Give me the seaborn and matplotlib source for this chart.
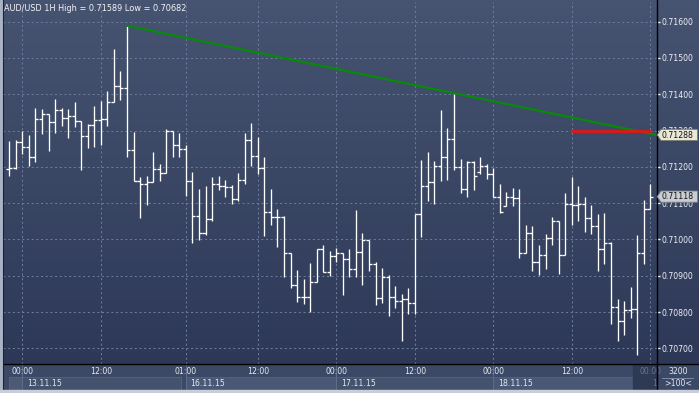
import matplotlib
matplotlib.use("Agg")
import matplotlib.pyplot as plt
from matplotlib.patches import Rectangle, Polygon
import numpy as np
import pandas as pd
import seaborn as sns

# ---------------- data ----------------
title_text = "AUD/USD 1H High = 0.71589 Low = 0.70682"

opens = [0.71194, 0.71197, 0.71268, 0.71254, 0.71228, 0.71332, 0.71346, 0.71324, 0.71357, 0.71335,
         0.71339, 0.71327, 0.71286, 0.71316, 0.71329, 0.71332, 0.71379, 0.71423, 0.71418, 0.71247,
         0.71161, 0.71153, 0.71158, 0.71194, 0.71183, 0.71299, 0.71261, 0.71250, 0.71162, 0.71065,
         0.71018, 0.71055, 0.71153, 0.71147, 0.71145, 0.71112, 0.71164, 0.71274, 0.71230, 0.71197,
         0.71076, 0.71062, 0.71063, 0.70963, 0.70875, 0.70841, 0.70841, 0.70883, 0.70974, 0.70911,
         0.70953, 0.70963, 0.70947, 0.70919, 0.70966, 0.70999, 0.70933, 0.70840, 0.70897, 0.70841,
         0.70830, 0.70837, 0.70826, 0.71071, 0.71148, 0.71159, 0.71201, 0.71228, 0.71277, 0.71200,
         0.71139, 0.71213, 0.71185, 0.71203, 0.71180, 0.71117, 0.71092, 0.71117, 0.71115, 0.70963,
         0.71019, 0.70939, 0.70958, 0.71005, 0.71050, 0.70958, 0.71098, 0.71094, 0.71098, 0.71060,
         0.71038, 0.70973, 0.70991, 0.70815, 0.70774, 0.70806, 0.70809, 0.70963, 0.71084]

highs = [0.71270, 0.71274, 0.71299, 0.71289, 0.71363, 0.71360, 0.71346, 0.71387, 0.71363, 0.71359,
         0.71379, 0.71327, 0.71317, 0.71369, 0.71382, 0.71409, 0.71526, 0.71465, 0.71589, 0.71297,
         0.71171, 0.71176, 0.71240, 0.71209, 0.71304, 0.71299, 0.71292, 0.71261, 0.71187, 0.71140,
         0.71146, 0.71171, 0.71176, 0.71165, 0.71149, 0.71183, 0.71293, 0.71322, 0.71281, 0.71228,
         0.71138, 0.71083, 0.71064, 0.70963, 0.70915, 0.70892, 0.70934, 0.70974, 0.70985, 0.70969,
         0.70977, 0.70963, 0.70973, 0.71080, 0.71019, 0.70999, 0.70937, 0.70920, 0.70901, 0.70871,
         0.70850, 0.70867, 0.71071, 0.71220, 0.71242, 0.71216, 0.71358, 0.71306, 0.71400, 0.71222,
         0.71216, 0.71216, 0.71228, 0.71207, 0.71198, 0.71154, 0.71130, 0.71142, 0.71138, 0.71039,
         0.71038, 0.70986, 0.71016, 0.71062, 0.71052, 0.71128, 0.71173, 0.71146, 0.71118, 0.71096,
         0.71069, 0.71074, 0.70993, 0.70835, 0.70830, 0.70868, 0.71011, 0.71109, 0.71153]

lows = [0.71174, 0.71194, 0.71236, 0.71202, 0.71213, 0.71290, 0.71243, 0.71294, 0.71312, 0.71279,
        0.71309, 0.71191, 0.71251, 0.71254, 0.71261, 0.71312, 0.71379, 0.71383, 0.71227, 0.71161,
        0.71060, 0.71094, 0.71158, 0.71161, 0.71183, 0.71227, 0.71227, 0.71119, 0.70990, 0.70998,
        0.71011, 0.71052, 0.71135, 0.71117, 0.71097, 0.71107, 0.71152, 0.71201, 0.71179, 0.71009,
        0.71039, 0.70979, 0.70896, 0.70866, 0.70828, 0.70823, 0.70800, 0.70883, 0.70909, 0.70899,
        0.70938, 0.70848, 0.70896, 0.70896, 0.70874, 0.70912, 0.70819, 0.70826, 0.70789, 0.70811,
        0.70720, 0.70795, 0.70795, 0.71006, 0.71106, 0.71097, 0.71161, 0.71163, 0.71190, 0.71128,
        0.71117, 0.71136, 0.71181, 0.71167, 0.71117, 0.71073, 0.71091, 0.71092, 0.70950, 0.70963,
        0.70913, 0.70903, 0.70919, 0.70985, 0.70905, 0.70958, 0.71040, 0.71050, 0.71020, 0.71016,
        0.70913, 0.70931, 0.70768, 0.70721, 0.70738, 0.70784, 0.70682, 0.70933, 0.71084]

closes = [0.71197, 0.71268, 0.71254, 0.71228, 0.71332, 0.71346, 0.71324, 0.71357, 0.71335, 0.71339,
          0.71327, 0.71286, 0.71316, 0.71329, 0.71332, 0.71379, 0.71423, 0.71418, 0.71247, 0.71162,
          0.71153, 0.71158, 0.71194, 0.71183, 0.71299, 0.71261, 0.71250, 0.71162, 0.71065, 0.71018,
          0.71055, 0.71153, 0.71147, 0.71145, 0.71112, 0.71164, 0.71274, 0.71230, 0.71197, 0.71076,
          0.71062, 0.71063, 0.70963, 0.70875, 0.70841, 0.70841, 0.70883, 0.70974, 0.70911, 0.70953,
          0.70963, 0.70947, 0.70919, 0.70966, 0.70999, 0.70933, 0.70840, 0.70897, 0.70841, 0.70830,
          0.70837, 0.70826, 0.71071, 0.71148, 0.71159, 0.71201, 0.71228, 0.71277, 0.71200, 0.71139,
          0.71213, 0.71174, 0.71203, 0.71180, 0.71117, 0.71075, 0.71117, 0.71115, 0.70963, 0.71019,
          0.70939, 0.70958, 0.71005, 0.71050, 0.70958, 0.71098, 0.71094, 0.71098, 0.71060, 0.71038,
          0.70973, 0.70991, 0.70815, 0.70774, 0.70806, 0.70809, 0.70963, 0.71084, 0.71118]

price_ticks = [0.707, 0.708, 0.709, 0.710, 0.711, 0.712, 0.713, 0.714, 0.715, 0.716]

time_tick_idx = [2, 14, 27, 38, 50, 62, 74, 86, 98]
time_tick_labels = ["00:00", "12:00", "01:00", "12:00", "00:00", "12:00", "00:00", "12:00", "00:00"]

day_start_idx = [2, 27, 50, 74, 95.4]
day_labels = ["13.11.15", "16.11.15", "17.11.15", "18.11.15", "1"]

trend_idx = [18, 68]
trend_price = [0.71589, 0.71403]
level_idx = [86, 98]
level_price = [0.71300, 0.71300]

tag_values = [0.71288, 0.71118]
corner_texts = ["3200", ">100<"]

# ---------------- style ----------------
sns.set_style("dark")
plt.rcParams["font.family"] = ["DejaVu Sans"]
FS = 5.6
W, H = 699, 393
fig = plt.figure(figsize=(W / 100, H / 100), dpi=100)

# background gradient (full figure)
bg = fig.add_axes([0, 0, 1, 1], zorder=0)
grad = np.linspace(0, 1, 256).reshape(-1, 1)
top_c = np.array([0x46, 0x54, 0x71]) / 255
bot_c = np.array([0x2b, 0x36, 0x55]) / 255
img = top_c[None, None, :] * (1 - grad[:, :, None]) + bot_c[None, None, :] * grad[:, :, None]
bg.imshow(img, aspect="auto", extent=[0, W, H, 0])
bg.set_xlim(0, W)
bg.set_ylim(H, 0)
bg.axis("off")

# main axes geometry in pixels
L, R, T, B = 3.0, 656.5, 2.0, 363.5
ax = fig.add_axes([L / W, (H - B) / H, (R - L) / W, (B - T) / H], zorder=1)
ax.set_facecolor("none")
ppx = 36.29  # pixels per 0.001
x0_px, bar_px = 9.3, 6.54
ax.set_xlim((L - x0_px) / bar_px, (R - x0_px) / bar_px)
ax.set_ylim(0.716 - (B - 21.7) / ppx / 1000, 0.716 + (21.7 - T) / ppx / 1000)
for s in ax.spines.values():
    s.set_visible(False)

# grid
grid_kw = dict(color="#6b7a98", lw=0.75, linestyle=(0, (2, 2.5)), zorder=1)
for p in price_ticks:
    ax.axhline(p, **grid_kw)
for i in time_tick_idx:
    ax.axvline(i, **grid_kw)

# OHLC bars
df = pd.DataFrame({"o": opens, "h": highs, "l": lows, "c": closes})
df["i"] = np.arange(len(df))
bar_c = "#ffffff"
lw = 0.95
tw = 0.46
ax.vlines(df["i"], df["l"], df["h"], color=bar_c, lw=lw, zorder=3)
ax.hlines(df["o"], df["i"] - tw, df["i"], color=bar_c, lw=lw, zorder=3)
ax.hlines(df["c"], df["i"], df["i"] + tw, color=bar_c, lw=lw, zorder=3)

# trend line (extended to right edge) and level
xr = ax.get_xlim()[1]
slope = (trend_price[1] - trend_price[0]) / (trend_idx[1] - trend_idx[0])
tl = pd.DataFrame({"x": [trend_idx[0], xr],
                   "y": [trend_price[0], trend_price[0] + slope * (xr - trend_idx[0])]})
sns.lineplot(data=tl, x="x", y="y", ax=ax, color="#078a07", lw=1.6, zorder=4, legend=False)
lv = pd.DataFrame({"x": level_idx, "y": level_price})
sns.lineplot(data=lv, x="x", y="y", ax=ax, color="#ee1111", lw=1.9, zorder=5, legend=False)
ax.set_xlabel("")
ax.set_ylabel("")

# right axis
ax.yaxis.tick_right()
ax.set_yticks(price_ticks)
ax.set_yticklabels([f"{p:.5f}" for p in price_ticks])
ax.tick_params(axis="y", which="both", right=True, length=2.2, width=1.0, color="#ffffff",
               pad=1.2, labelsize=FS, labelcolor="#eef0f6", direction="out")
ax.tick_params(axis="x", bottom=False, labelbottom=False)
ax.grid(False)

ax.text(0.002, 0.995, title_text, transform=ax.transAxes, ha="left", va="top",
        fontsize=FS + 0.3, color="#f4f5f8", zorder=6)

# ---------------- decorations in pixel coordinates ----------------
deco = fig.add_axes([0, 0, 1, 1], zorder=2)
deco.set_xlim(0, W)
deco.set_ylim(H, 0)
deco.axis("off")
deco.set_facecolor("none")

def px_x(i):
    return x0_px + bar_px * i

def px_y(p):
    return 21.7 + (0.716 - p) * 1000 * ppx

# bottom axis panel
deco.add_patch(Rectangle((0, B), W, 390 - B, color="#3c4966", zorder=1))
# day boxes in date row
fills = ["#44526e", "#4a5876", "#44526e", "#4a5876"]
for k in range(len(day_start_idx) - 1):
    x1 = px_x(day_start_idx[k])
    x2 = px_x(day_start_idx[k + 1]) - (5 if k == 0 else 0)
    deco.add_patch(Rectangle((x1, 377), x2 - x1, 12.5, facecolor=fills[k],
                             edgecolor="#56647f", lw=0.6, zorder=2))
deco.add_patch(Rectangle((9, 377), px_x(day_start_idx[0]) - 9, 12.5, facecolor="#4d5a75",
                         edgecolor="#56647f", lw=0.6, zorder=2))
# shaded current region
xs = px_x(day_start_idx[-1])
shade = Rectangle((xs, B), R - xs, 390 - B, color="#2e3954", zorder=3)
deco.add_patch(shade)
# day separators
for d in day_start_idx[:-1]:
    deco.plot([px_x(d), px_x(d)], [B, 390], color="#5e6d8b", lw=0.7, zorder=3)

for i, lab in zip(time_tick_idx, time_tick_labels):
    dim = px_x(i) > xs
    t = deco.text(px_x(i), 371.5, lab, ha="center", va="center", fontsize=FS,
                  color="#6a7690" if dim else "#e4e8f0", zorder=4)
    if dim:
        t.set_clip_path(shade)
for d, lab in zip(day_start_idx, day_labels):
    dim = px_x(d) >= xs
    deco.text(px_x(d) + (4.5 if not dim else 18.5), 384, lab, ha="left", va="center",
              fontsize=FS, color="#6a7690" if dim else "#e4e8f0", zorder=4)

# separator lines and frame
deco.plot([R, R], [0, 390], color="#000000", lw=1.0, zorder=6)
deco.plot([L, W], [B, B], color="#000000", lw=1.0, zorder=6)
deco.add_patch(Rectangle((0, 0), 2.2, H, color="#aab3c3", zorder=7))
deco.plot([2.6, 2.6], [0, 390], color="#1c2233", lw=0.8, zorder=7)
deco.add_patch(Rectangle((0, 390), W, 3, color="#c9ced8", zorder=7))

# corner box
deco.text(678, 371.5, corner_texts[0], ha="center", va="center", fontsize=FS, color="#e4e8f0", zorder=6)
deco.text(678, 384, corner_texts[1], ha="center", va="center", fontsize=FS, color="#e4e8f0", zorder=6)
deco.plot([662, 693], [378, 378], color="#7e8ba4", lw=0.7, zorder=6)

# price tags
tag_styles = [("#e9e8d6", "#7b7b6a"), ("#c9ccd2", "#7a7f88")]
for val, (fc, ec) in zip(tag_values, tag_styles):
    y = px_y(val)
    poly = Polygon([(657.2, y), (661, y - 5.6), (697.6, y - 5.6), (697.6, y + 5.6), (661, y + 5.6)],
                   closed=True, facecolor=fc, edgecolor=ec, lw=0.6, zorder=8)
    deco.add_patch(poly)
    deco.text(661.5, y + 0.3, f"{val:.5f}", ha="left", va="center", fontsize=FS,
              color="#101010", zorder=9)

fig.savefig("out.png", dpi=100)
